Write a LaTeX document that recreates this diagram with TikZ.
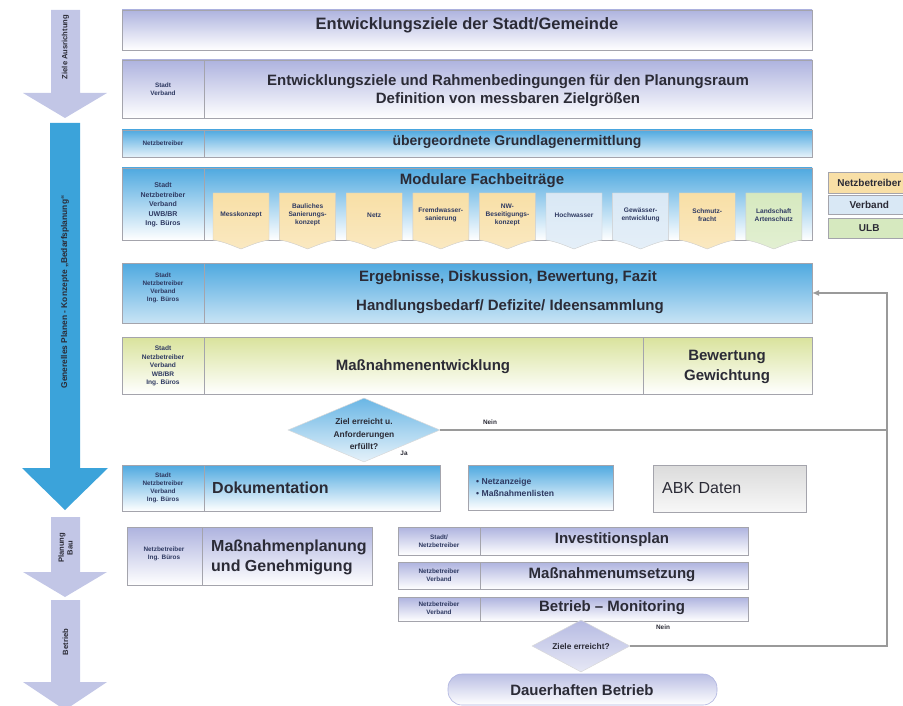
\documentclass[tikz,border=0pt]{standalone}
\usepackage{fontspec}
\setmainfont{Liberation Sans}
\usetikzlibrary{shapes.geometric,arrows.meta}

\definecolor{boxline}{HTML}{A4A4AC}
\definecolor{lavtop}{HTML}{AEB3DF}
\definecolor{bluetop}{HTML}{4FA9E0}
\definecolor{bluebot}{HTML}{E6F2FA}
\definecolor{olivetop}{HTML}{D9E39C}
\definecolor{txtdark}{HTML}{2B2B36}
\definecolor{lbltxt}{HTML}{2F3A62}
\definecolor{yel}{HTML}{F8DFA6}
\definecolor{lblue}{HTML}{D9E8F5}
\definecolor{lgreen}{HTML}{D6E9BF}
\definecolor{arrowlav}{HTML}{C2C6E6}
\definecolor{arrowblue}{HTML}{3BA3DA}
\definecolor{loopgray}{HTML}{9A9A9A}

\newcommand\fMain{\fontsize{15}{18}\selectfont\bfseries}
\newcommand\fCell{\fontsize{6.4}{8.2}\selectfont\bfseries}
\newcommand\fTiny{\fontsize{6.6}{8}\selectfont\bfseries}

\begin{document}
% vshade={upper colour}{lower colour}: a vertical axis shading
\begin{tikzpicture}[x=1pt,y=-1pt,
  vshade/.style 2 args={bottom color=#1, top color=#2, shading angle=180},
  band/.style={draw=boxline, line width=0.6pt, anchor=north west,
    inner sep=0pt, outer sep=0pt, rectangle},
  lavband/.style={band, vshade={lavtop}{white}},
  blueband/.style={band, vshade={bluetop}{bluebot}},
  oliveband/.style={band, vshade={olivetop}{white}},
  greyband/.style={band, vshade={black!14}{black!3}},
  divider/.style={draw=boxline, line width=0.6pt},
  cell/.style={font=\fCell, text=lbltxt, align=center, inner sep=0pt},
  head/.style={font=\fMain, text=txtdark, align=center, inner sep=0pt},
  subtxt/.style={font=\fTiny, text=lbltxt, align=center, inner sep=0pt},
  arrowtxt/.style={font=\fontsize{7.6}{8.8}\selectfont\bfseries, text=txtdark,
    align=center, inner sep=0pt, rotate=90},
  legendbox/.style={draw=boxline, line width=0.5pt, minimum width=82pt,
    anchor=north west, inner sep=0pt,
    font=\fontsize{10}{11}\selectfont\bfseries, text=txtdark},
  loop/.style={draw=loopgray, line width=1.5pt},
  decision/.style={diamond, draw=white!85!black, line width=0.5pt,
    inner sep=0pt, minimum width=#1},
  flag/.style={font=\fontsize{6.4}{8}\selectfont\bfseries, text=txtdark, inner sep=0pt}
]
\useasboundingbox (0,0) rectangle (903,706);

% ---------- phase arrows on the left ----------
\fill[arrowlav] (51,10) -- (80,10) -- (80,93) -- (107,93) -- (65,118)
  -- (23,93) -- (51,93) -- cycle;
\node[arrowtxt] (p1) at (65.5,47) {Ziele Ausrichtung};

\fill[arrowblue] (50,123) -- (80,123) -- (80,468) -- (108,468) -- (65,510)
  -- (22,468) -- (50,468) -- cycle;
\node[arrowtxt, font=\fontsize{8.4}{9}\selectfont\bfseries] (p2) at (65,292)
  {Generelles Planen - Konzepte „Bedarfsplanung“};

\fill[arrowlav] (51,517) -- (80,517) -- (80,572) -- (107,572) -- (65,597)
  -- (23,572) -- (51,572) -- cycle;
\node[arrowtxt] (p3) at (65.5,548) {Planung\\Bau};

\fill[arrowlav] (51,600) -- (80,600) -- (80,682) -- (107,682) -- (65,710)
  -- (23,682) -- (51,682) -- cycle;
\node[arrowtxt] (p4) at (65.5,642) {Betrieb};

% ---------- objectives ----------
\node[lavband, minimum width=690pt, minimum height=40pt] (goals) at (122,10) {};
\node[head, font=\fontsize{16.5}{19}\selectfont\bfseries] (goalst) at (467,25)
  {Entwicklungsziele der Stadt/Gemeinde};

\node[lavband, minimum width=690pt, minimum height=58pt] (frame) at (122,60) {};
\draw[divider] (204,60) -- (204,118);
\node[cell] (framel) at (163,89) {Stadt\\Verband};
\node[head] (framet) at (508,91)
  {Entwicklungsziele und Rahmenbedingungen für den Planungsraum\\
   Definition von messbaren Zielgrößen};

% ---------- fundamentals ----------
\node[blueband, minimum width=690pt, minimum height=27pt] (basis) at (122,130) {};
\draw[divider] (204,130) -- (204,157);
\node[cell] (basisl) at (163,143.5) {Netzbetreiber};
\node[head, font=\fontsize{14}{17}\selectfont\bfseries] (basist) at (517,142)
  {übergeordnete Grundlagenermittlung};

% ---------- modular contributions ----------
\node[band, vshade={bluetop}{white}, minimum width=690pt, minimum height=72pt] (modul) at (122,168) {};
\draw[divider] (204,168) -- (204,240);
\node[cell, font=\fontsize{7}{9.6}\selectfont\bfseries] (modull) at (163,205)
  {Stadt\\Netzbetreiber\\Verband\\UWB/BR\\Ing. Büros};
\node[head] (modult) at (482,181) {Modulare Fachbeiträge};

\foreach \i/\c/\t in {
  0/yel/{Messkonzept},
  1/yel/{Bauliches\\Sanierungs-\\konzept},
  2/yel/{Netz},
  3/yel/{Fremdwasser-\\sanierung},
  4/yel/{NW-\\Beseitigungs-\\konzept},
  5/lblue/{Hochwasser},
  6/lblue/{Gewässer-\\entwicklung},
  7/yel/{Schmutz-\\fracht},
  8/lgreen/{Landschaft\\Artenschutz}} {
  \pgfmathsetmacro\xl{213+66.6*\i}
  \pgfmathsetmacro\xr{\xl+56}
  \pgfmathsetmacro\xm{\xl+28}
  \path[vshade={\c}{\c!70!white}, draw=white!80!black, line width=0.4pt]
    (\xl,193) -- (\xr,193) -- (\xr,240)
    .. controls ({\xr-12},242) and ({\xm+8},246) .. (\xm,249)
    .. controls ({\xm-8},246) and ({\xl+12},242) .. (\xl,240) -- cycle;
  \node[subtxt] (m\i) at (\xm,215) {\t};
}

% ---------- legend ----------
\node[legendbox, fill=yel, minimum height=21pt] (lg1) at (828,172) {Netzbetreiber};
\node[legendbox, fill=lblue, minimum height=19pt] (lg2) at (828,195) {Verband};
\node[legendbox, fill=lgreen, minimum height=20pt] (lg3) at (828,218) {ULB};

% ---------- results ----------
\node[band, vshade={bluetop}{bluebot!80!bluetop}, minimum width=690pt, minimum height=60pt] (result) at (122,263) {};
\draw[divider] (204,263) -- (204,323);
\node[cell] (resultl) at (163,288) {Stadt\\Netzbetreiber\\Verband\\Ing. Büros};
\node[head] (resultt1) at (508,278) {Ergebnisse, Diskussion, Bewertung, Fazit};
\node[head] (resultt2) at (510,307) {Handlungsbedarf/ Defizite/ Ideensammlung};

% ---------- measures ----------
\node[oliveband, minimum width=690pt, minimum height=57pt] (measure) at (122,337) {};
\draw[divider] (204,337) -- (204,394);
\draw[divider] (643,337) -- (643,394);
\node[cell, font=\fontsize{6.6}{8.6}\selectfont\bfseries] (measurel) at (163,366)
  {Stadt\\Netzbetreiber\\Verband\\WB/BR\\Ing. Büros};
\node[head] (measuret) at (423,367) {Maßnahmenentwicklung};
\node[head, font=\fontsize{15}{20}\selectfont\bfseries] (ratingt) at (727,367) {Bewertung\\Gewichtung};

% ---------- first decision ----------
\node[decision=152pt, minimum height=64pt, vshade={bluetop!85}{bluebot}] (check1) at (364,430) {};
\node[subtxt, font=\fontsize{8.4}{12.4}\selectfont\bfseries, text=txtdark] (check1t) at (364,434)
  {Ziel erreicht u.\\Anforderungen\\erfüllt?};
\node[flag] (yes1) at (404,453) {Ja};
\node[flag] (no1) at (490,422) {Nein};

% ---------- documentation row ----------
\node[band, vshade={bluetop}{white}, minimum width=318pt, minimum height=46pt] (doc) at (122,465) {};
\draw[divider] (204,465) -- (204,511);
\node[cell] (docl) at (163,488) {Stadt\\Netzbetreiber\\Verband\\Ing. Büros};
\node[head, font=\fontsize{16}{19}\selectfont\bfseries, anchor=west] (doct) at (212,488) {Dokumentation};

\node[band, vshade={bluetop}{white}, minimum width=145pt, minimum height=45pt] (lists) at (468,465) {};
\node[inner sep=0pt, anchor=west, align=left, text=lbltxt,
  font=\fontsize{8.6}{12}\selectfont\bfseries] (listst) at (476,487)
  {• Netzanzeige\\• Maßnahmenlisten};

\node[greyband, minimum width=153pt, minimum height=47pt] (abk) at (653,465) {};
\node[inner sep=0pt, anchor=west, text=txtdark, font=\fontsize{16}{19}\selectfont] (abkt) at (662,488) {ABK Daten};

% ---------- planning and construction ----------
\node[lavband, minimum width=245pt, minimum height=58pt] (plan) at (127,527) {};
\draw[divider] (202,527) -- (202,585);
\node[cell] (planl) at (164,554) {Netzbetreiber\\Ing. Büros};
\node[head, font=\fontsize{16}{20}\selectfont\bfseries, anchor=west, align=left] (plant) at (211,557)
  {Maßnahmenplanung\\und Genehmigung};

\node[lavband, minimum width=350pt, minimum height=28pt] (invest) at (398,527) {};
\draw[divider] (480,527) -- (480,555);
\node[cell] (investl) at (439,541) {Stadt/\\Netzbetreiber};
\node[head] (investt) at (612,540) {Investitionsplan};

\node[lavband, minimum width=350pt, minimum height=27pt] (build) at (398,562) {};
\draw[divider] (480,562) -- (480,589);
\node[cell] (buildl) at (439,575.5) {Netzbetreiber\\Verband};
\node[head] (buildt) at (612,575) {Maßnahmenumsetzung};

\node[lavband, minimum width=350pt, minimum height=24pt] (monitor) at (398,597) {};
\draw[divider] (480,597) -- (480,621);
\node[cell] (monitorl) at (439,608.5) {Netzbetreiber\\Verband};
\node[head] (monitort) at (612,608) {Betrieb -- Monitoring};

% ---------- second decision and final state ----------
\node[decision=98pt, minimum height=52pt, vshade={lavtop!90}{lavtop!30}] (check2) at (581,646) {};
\node[subtxt, font=\fontsize{8.4}{10}\selectfont\bfseries, text=txtdark] (check2t) at (581,646) {Ziele erreicht?};
\node[flag] (no2) at (663,627) {Nein};

\node[band, draw=lavtop, rounded corners=14pt, vshade={lavtop!85}{white},
  minimum width=269pt, minimum height=31pt] (steady) at (448,674) {};
\node[head] (steadyt) at (582,690) {Dauerhaften Betrieb};

% ---------- feedback loops ----------
\coordinate (rail) at (887,0);
\draw[loop, -{Latex[length=7pt,width=6pt]}] (check1.east) -- (check1.east -| rail)
  |- (result.east);
\draw[loop] (check2.east) -- (check2.east -| rail) -- (check1.east -| rail);
\end{tikzpicture}
\end{document}
